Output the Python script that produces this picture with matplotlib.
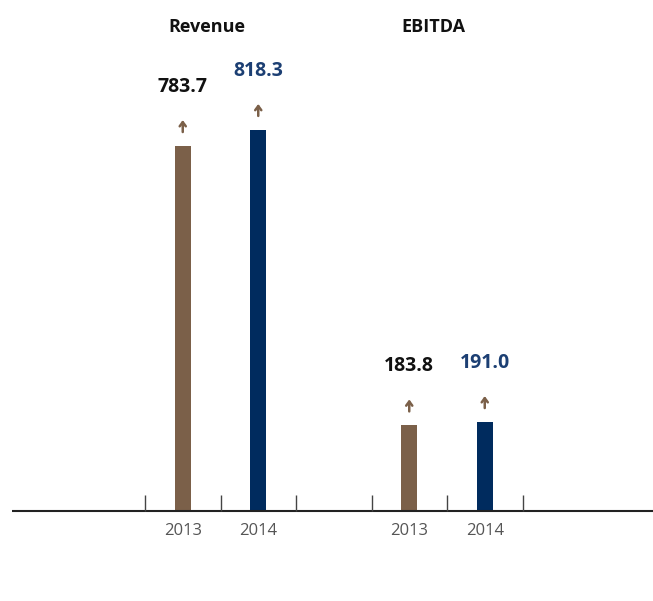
import matplotlib
matplotlib.use("Agg")
import matplotlib.pyplot as plt

# DATOS
grupos = ["Revenue", "EBITDA"]
anios = ["2013", "2014"]
valores_2013 = [783.7, 183.8]
valores_2014 = [818.3, 191.0]

CAFE = "#7b6049"
AZUL = "#002b5e"

plt.rcParams['font.family'] = ['Open Sans', 'DejaVu Sans']

fig = plt.figure(figsize=(6.53, 6.01), dpi=100)
ax = fig.add_axes([0, 0, 1, 1])

# escala: 75.5 px por unidad en x, 0.4657 px por unidad en y
PX_Y = 0.4657
ax.set_xlim(-145 / 75.5, 508 / 75.5)
ax.set_ylim(-90 / PX_Y, 511 / PX_Y)
ax.axis("off")

ancho = 16 / 75.5
for g, nombre in enumerate(grupos):
    base = g * 3
    pares = [(base + 0.5, valores_2013[g], CAFE, "#111111"),
             (base + 1.5, valores_2014[g], AZUL, "#1c3f73")]
    for i, (x, v, color, color_txt) in enumerate(pares):
        ax.bar(x, v, width=ancho, color=color, zorder=2)
        # flechita sobre la barra
        ax.annotate("", xy=(x, v + 26 / PX_Y), xytext=(x, v + 14 / PX_Y),
                    arrowprops=dict(arrowstyle="->,head_length=0.3,head_width=0.22",
                                    color=CAFE, lw=1.8, shrinkA=0, shrinkB=0))
        ax.annotate(f"{v:.1f}", (x, v), xytext=(0, 42.5), textcoords="offset points",
                    ha="center", va="center", fontsize=14, fontweight="bold",
                    color=color_txt)
        ax.annotate(anios[i], (x, 0), xytext=(0, -14.5), textcoords="offset points",
                    ha="center", va="center", fontsize=12, color="#555555")
    ax.text(base + 0.82, 1039, nombre, ha="center", va="center",
            fontsize=13, fontweight="bold", color="#111111")

# linea base y marcas
ax.plot([(12 - 145) / 75.5, 508 / 75.5], [0, 0], color="#222222", lw=1.5,
        solid_capstyle="butt", zorder=3)
ax.vlines(range(6), 0, 16 / PX_Y, color="#444444", lw=1, zorder=3)

plt.savefig("out.png", dpi=100)
